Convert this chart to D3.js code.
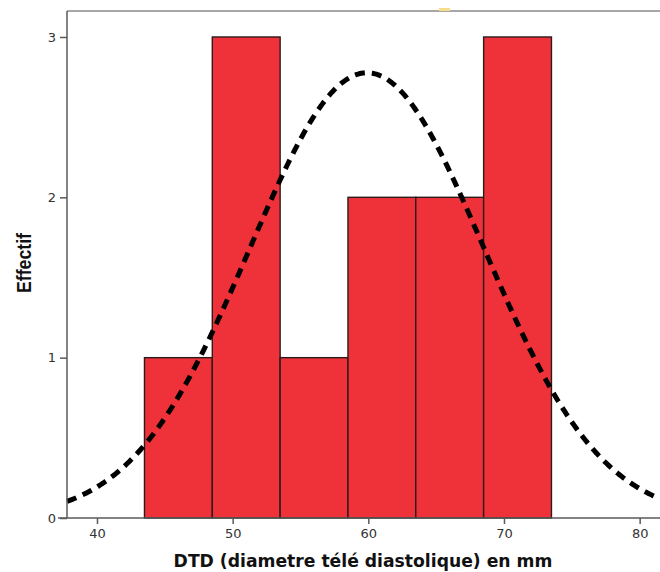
<!DOCTYPE html>
<html>
<head>
<meta charset="utf-8">
<script src="https://cdn.jsdelivr.net/npm/d3@7"></script>
<style>
  html, body { margin: 0; padding: 0; background: #fff; }
  svg { display: block; }
</style>
</head>
<body>
<svg id="chart" width="660" height="572"></svg>
<script>
// Histogram bins (mm) and counts
const binStarts = [43.5, 48.5, 53.5, 58.5, 63.5, 68.5];
const binWidth = 5;
const counts = [1, 3, 1, 2, 2, 3];
const xTicks = [40, 50, 60, 70, 80];
const yTicks = [0, 1, 2, 3];
// Fitted normal curve parameters
const fitMean = 59.9;
const fitSd = 8.62;

const svg = d3.select("#chart");
const plotL = 67, plotT = 11, plotR = 660, plotB = 518;

const x = d3.scaleLinear().domain([37.79, 81.5]).range([plotL, plotR]);
const y = d3.scaleLinear().domain([0, 3.162]).range([plotB, plotT]);

const axisColor = "#5a5a5a";

// Bars
svg.append("g").selectAll("rect")
  .data(binStarts.map((s, i) => ({ s, c: counts[i] })))
  .join("rect")
  .attr("x", d => x(d.s))
  .attr("y", d => y(d.c))
  .attr("width", d => x(d.s + binWidth) - x(d.s))
  .attr("height", d => y(0) - y(d.c))
  .attr("fill", "#ef3139")
  .attr("stroke", "#2b1b1b")
  .attr("stroke-width", 1.4);

// Normal density scaled to counts
const n = d3.sum(counts);
const dens = v => n * binWidth / (fitSd * Math.sqrt(2 * Math.PI)) *
  Math.exp(-0.5 * ((v - fitMean) / fitSd) ** 2);
const xs = d3.range(37.79, 81.5, 0.1);
svg.append("path")
  .datum(xs)
  .attr("d", d3.line().x(v => x(v)).y(v => y(dens(v))))
  .attr("fill", "none")
  .attr("stroke", "#000")
  .attr("stroke-width", 5)
  .attr("stroke-dasharray", "10,7");

// Frame lines
svg.append("line").attr("x1", plotL).attr("x2", plotR).attr("y1", plotT).attr("y2", plotT)
  .attr("stroke", "#8a8a8a").attr("stroke-width", 1.5);
svg.append("rect").attr("x", 439).attr("y", 8).attr("width", 11).attr("height", 3)
  .attr("fill", "#f7dc8c");

// Y axis
const yAxis = d3.axisLeft(y).tickValues(yTicks).tickSize(7).tickPadding(4).tickFormat(d3.format("d"));
const gy = svg.append("g").attr("transform", `translate(${plotL},0)`).call(yAxis);
gy.select(".domain").remove();
gy.append("line").attr("x1", 0).attr("x2", 0).attr("y1", plotT).attr("y2", plotB)
  .attr("stroke", axisColor).attr("stroke-width", 1.5);
gy.selectAll(".tick line").attr("stroke", axisColor).attr("stroke-width", 1.5);
gy.selectAll(".tick text").attr("fill", "#333").style("font-family", "DejaVu Sans, sans-serif").style("font-size", "13px");

// X axis
const xAxis = d3.axisBottom(x).tickValues(xTicks).tickSize(6).tickPadding(5).tickFormat(d3.format("d"));
const gx = svg.append("g").attr("transform", `translate(0,${plotB})`).call(xAxis);
gx.select(".domain").remove();
gx.append("line").attr("x1", plotL - 9).attr("x2", plotR).attr("y1", 0).attr("y2", 0)
  .attr("stroke", axisColor).attr("stroke-width", 1.5);
gx.selectAll(".tick line").attr("stroke", axisColor).attr("stroke-width", 1.5);
gx.selectAll(".tick text").attr("fill", "#333").style("font-family", "DejaVu Sans, sans-serif").style("font-size", "13px");

// Axis titles
svg.append("text")
  .attr("x", 363).attr("y", 567)
  .attr("text-anchor", "middle")
  .style("font-family", "DejaVu Sans, sans-serif")
  .style("font-weight", "bold")
  .style("font-size", "17.2px")
  .attr("fill", "#111")
  .text("DTD (diametre télé diastolique) en mm");

svg.append("text")
  .attr("transform", "translate(31,263) rotate(-90)")
  .attr("text-anchor", "middle")
  .attr("textLength", 60)
  .attr("lengthAdjust", "spacingAndGlyphs")
  .style("font-family", "Liberation Sans, Arial, sans-serif")
  .style("font-weight", "bold")
  .style("font-size", "20px")
  .attr("fill", "#111")
  .text("Effectif");
</script>
</body>
</html>
